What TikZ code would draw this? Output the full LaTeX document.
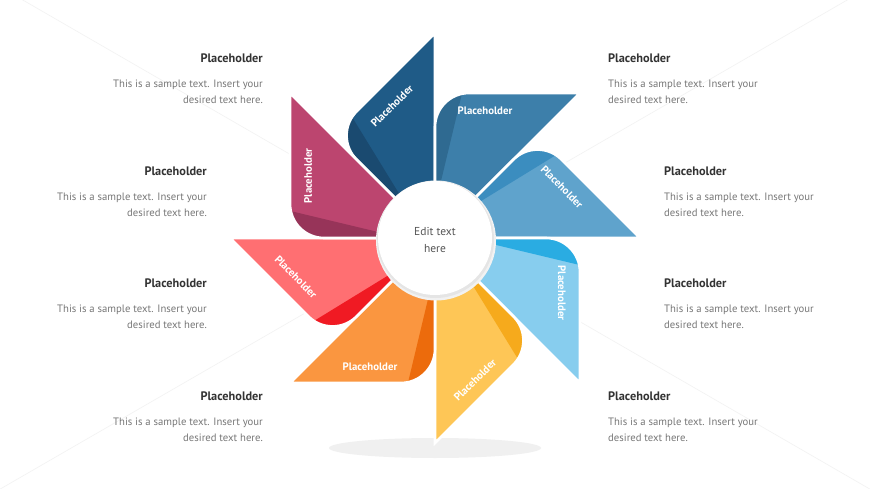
\documentclass[tikz,border=0pt]{standalone}
\usepackage{fontspec}
\setmainfont{PT Sans}
\definecolor{mA}{HTML}{1F5B87}\definecolor{dA}{HTML}{1A4A70}
\definecolor{mB}{HTML}{3D7FAA}\definecolor{dB}{HTML}{2F6A91}
\definecolor{mC}{HTML}{5FA3CC}\definecolor{dC}{HTML}{3B8DBF}
\definecolor{mD}{HTML}{87CDEE}\definecolor{dD}{HTML}{2AACE2}
\definecolor{mE}{HTML}{FEC656}\definecolor{dE}{HTML}{F6AA1C}
\definecolor{mF}{HTML}{FA9640}\definecolor{dF}{HTML}{EC6B0C}
\definecolor{mG}{HTML}{FF6F72}\definecolor{dG}{HTML}{F01A23}
\definecolor{mH}{HTML}{BC456F}\definecolor{dH}{HTML}{973459}
\definecolor{headc}{HTML}{333333}
\definecolor{bodyc}{HTML}{777777}
\definecolor{hubc}{HTML}{555555}
\tikzset{
  faint/.style={draw=black!5, line width=0.6pt},
  bladelabel/.style={text=white, font=\bfseries\fontsize{10.8}{12}\selectfont, inner sep=0pt},
  headtxt/.style={text=headc, font=\bfseries\fontsize{12.3}{14}\selectfont, inner sep=0pt},
  bodytxt/.style={text=bodyc, font=\fontsize{10.7}{12}\selectfont, inner sep=0pt},
  gapline/.style={draw=white, line width=2.6pt}
}
\begin{document}
\begin{tikzpicture}[x=1pt,y=-1pt]
\useasboundingbox (0,0) rectangle (870,489);
\fill[white] (0,0) rectangle (870,489);
\coordinate (c) at (435,238);
% faint background lines
\foreach \ang in {30,150,210,330}
  \draw[faint] (c) -- ++(\ang:520);
% floor shadow
\fill[black!6] (435,448) ellipse (106 and 10);
% blades
\foreach \a/\mc/\dc in {90/mA/dA,45/mB/dB,0/mC/dC,315/mD/dD,270/mE/dE,225/mF/dF,180/mG/dG,135/mH/dH}{
  \begin{scope}[shift={(c)}, rotate=\a]
    \fill[\mc] (0,0) -- (205,0) -- (126.54,-78.46) .. controls (113.26,-91.74) and (91.74,-91.74) .. (78.46,-78.46) -- cycle;
    \begin{scope}
      \clip (0,0) -- (205,0) -- (126.54,-78.46) .. controls (113.26,-91.74) and (91.74,-91.74) .. (78.46,-78.46) -- cycle;
      \fill[\dc] (-14.1,-14.1) -- (141.4,-169.7) -- (187.4,-123.7) -- (-5.4,-5.4) -- cycle;
    \end{scope}
    \draw[gapline] (0,0) -- (205,0) -- (126.54,-78.46) .. controls (113.26,-91.74) and (91.74,-91.74) .. (78.46,-78.46) -- cycle;
  \end{scope}
}
% hub
\fill[black!5] (436,240.5) circle (60);
\fill[black!10] (435.5,239.5) circle (58.5);
\node[circle, fill=white, minimum size=114pt, inner sep=0pt] (hub) at (c) {};
\node[text=hubc, font=\fontsize{11.5}{17}\selectfont, align=center, inner sep=0pt] (hubtext) at (435,239.5) {Edit text\\here};
% blade labels
\node[bladelabel, rotate=45]  (l1) at (392,106) {Placeholder};
\node[bladelabel]             (l2) at (485,111) {Placeholder};
\node[bladelabel, rotate=-45] (l3) at (562,187) {Placeholder};
\node[bladelabel, rotate=-90] (l4) at (562,293) {Placeholder};
\node[bladelabel, rotate=45]  (l5) at (475,380) {Placeholder};
\node[bladelabel]             (l6) at (370,367) {Placeholder};
\node[bladelabel, rotate=-45] (l7) at (296,277) {Placeholder};
\node[bladelabel, rotate=90]  (l8) at (308,176) {Placeholder};
% side texts
\foreach \i/\x/\y/\side in {1/263/58/east,2/207/171/east,3/207/283/east,4/263/396/east,5/608/58/west,6/664/171/west,7/664/283/west,8/608/396/west}{
  \node[headtxt, anchor=base \side] (h\i) at (\x,\y+4.5) {Placeholder};
  \node[bodytxt, anchor=base \side] (a\i) at (\x,\y+29.5) {This is a sample text. Insert your};
  \node[bodytxt, anchor=base \side] (b\i) at (\x,\y+45.5) {desired text here.};
}
\end{tikzpicture}
\end{document}
